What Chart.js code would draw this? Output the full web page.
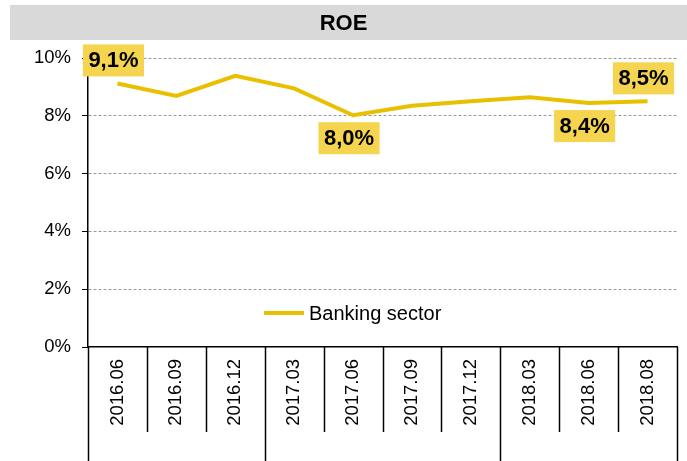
<!DOCTYPE html>
<html>
<head>
<meta charset="utf-8">
<script src="https://cdn.jsdelivr.net/npm/chart.js@4"></script>
<style>
    html, body { margin: 0; padding: 0; background: #fff; }
    #wrap { width: 687px; height: 461px; }
</style>
</head>
<body>
<div id="wrap"><canvas id="roeChart"></canvas></div>
<script>
// Chart data
const periods = ['2016.06', '2016.09', '2016.12', '2017.03', '2017.06', '2017.09', '2017.12', '2018.03', '2018.06', '2018.08'];
const bankingSector = [9.12, 8.69, 9.38, 8.95, 8.02, 8.35, 8.5, 8.64, 8.44, 8.5];
const yTicks = [0, 2, 4, 6, 8, 10];
const labelledPoints = [0, 4, 8, 9];
const labelSide = ['above', 'below', 'below', 'above'];

const LINE_COLOR = '#E8C000';
const BOX_COLOR = '#F5D54F';
const FONT = 'Arial, "Liberation Sans", sans-serif';

// Grey band behind the title
const titleBand = {
    id: 'titleBand',
    beforeDraw(chart) {
        const tb = chart.titleBlock;
        const ctx = chart.ctx;
        ctx.save();
        ctx.fillStyle = '#D9D9D9';
        ctx.fillRect(10, tb.top, chart.width - 10, 35);
        ctx.restore();
    }
};

// Category separators below the axis, longer at year boundaries
const separators = {
    id: 'separators',
    afterDraw(chart) {
        const x = chart.scales.x;
        const ctx = chart.ctx;
        const step = (x.right - x.left) / periods.length;
        const top = chart.chartArea.bottom;
        ctx.save();
        ctx.strokeStyle = '#000';
        ctx.lineWidth = 1.5;
        for (let i = 0; i <= periods.length; i++) {
            const px = Math.round(x.left + step * i) + 0.5;
            const yearEdge = i === 0 || i === periods.length ||
                periods[i].slice(0, 4) !== periods[i - 1].slice(0, 4);
            ctx.beginPath();
            ctx.moveTo(px, top);
            ctx.lineTo(px, yearEdge ? chart.height : top + 85);
            ctx.stroke();
        }
        ctx.restore();
    }
};

// Value boxes and in-plot legend
const valueBoxes = {
    id: 'valueBoxes',
    afterDatasetsDraw(chart) {
        const ctx = chart.ctx;
        const meta = chart.getDatasetMeta(0);
        ctx.save();
        ctx.font = 'bold 22px ' + FONT;
        ctx.textAlign = 'center';
        ctx.textBaseline = 'middle';
        labelledPoints.forEach((idx, k) => {
            const pt = meta.data[idx];
            const text = bankingSector[idx].toFixed(1).replace('.', ',') + '%';
            const w = ctx.measureText(text).width + 11;
            const h = 32;
            const cx = pt.x - 4;
            const top = labelSide[k] === 'above' ? pt.y - 7 - h : pt.y + 7;
            ctx.fillStyle = BOX_COLOR;
            ctx.fillRect(cx - w / 2, top, w, h);
            ctx.fillStyle = '#000';
            ctx.fillText(text, cx, top + h / 2 + 1);
        });

        // legend
        const area = chart.chartArea;
        const lx = area.left + 176;
        const ly = area.bottom - 34;
        ctx.strokeStyle = LINE_COLOR;
        ctx.lineWidth = 4;
        ctx.beginPath();
        ctx.moveTo(lx, ly);
        ctx.lineTo(lx + 40, ly);
        ctx.stroke();
        ctx.font = '20px ' + FONT;
        ctx.fillStyle = '#000';
        ctx.textAlign = 'left';
        ctx.fillText(chart.data.datasets[0].label, lx + 45, ly + 1);
        ctx.restore();
    }
};

const ctx = document.getElementById('roeChart').getContext('2d');
const roeChart = new Chart(ctx, {
    type: 'line',
    data: {
        labels: periods,
        datasets: [{
            label: 'Banking sector',
            data: bankingSector,
            borderColor: LINE_COLOR,
            borderWidth: 4,
            pointRadius: 0,
            tension: 0,
            fill: false
        }]
    },
    options: {
        responsive: true,
        maintainAspectRatio: false,
        animation: false,
        layout: { padding: { top: 5, right: 10, left: 10, bottom: 0 } },
        plugins: {
            legend: { display: false },
            tooltip: { enabled: false },
            title: {
                display: true,
                text: 'ROE',
                color: '#000',
                font: { family: FONT, size: 22, weight: 'bold', lineHeight: 1.2 },
                padding: { top: 6, bottom: 20.6 }
            }
        },
        scales: {
            x: {
                offset: true,
                grid: { display: false },
                border: { display: true, color: '#000', width: 1.5 },
                ticks: {
                    color: '#000',
                    font: { family: FONT, size: 18.5 },
                    minRotation: 90,
                    maxRotation: 90,
                    autoSkip: false,
                    padding: 4
                },
                afterFit(scale) { scale.height = 114; }
            },
            y: {
                min: 0,
                max: 10,
                afterBuildTicks(scale) { scale.ticks = yTicks.map(v => ({ value: v })); },
                grid: {
                    color: c => c.tick && c.tick.value === 0 ? 'rgba(0,0,0,0)' : '#9A9A9A',
                    lineWidth: 1,
                    tickColor: '#000',
                    tickLength: 6,
                    tickBorderDash: [],
                    drawTicks: true
                },
                border: { display: true, color: '#000', width: 1.5, dash: [3, 2] },
                ticks: {
                    color: '#000',
                    font: { family: FONT, size: 18.5 },
                    padding: 11,
                    callback: v => v + '%'
                },
                afterFit(scale) { scale.width = 78; }
            }
        }
    },
    plugins: [titleBand, separators, valueBoxes]
});
</script>
</body>
</html>
